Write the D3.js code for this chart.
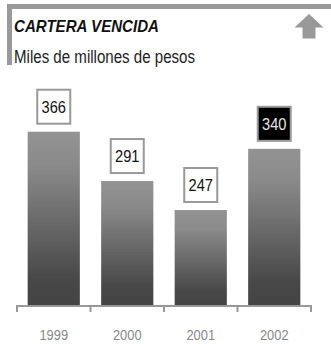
<!DOCTYPE html>
<html>
<head>
<meta charset="utf-8">
<script src="https://cdn.jsdelivr.net/npm/d3@7"></script>
<style>
  html, body { margin: 0; padding: 0; background: #fff; }
  svg { display: block; }
  text { font-family: "Liberation Sans", Arial, sans-serif; }
</style>
</head>
<body>
<svg id="chart" width="331" height="344"></svg>
<script>
// Cartera vencida, miles de millones de pesos
const years = ["1999", "2000", "2001", "2002"];
const values = [366, 291, 247, 340];
const highlighted = ["2002"];

const svg = d3.select("#chart");
const W = 331;
const baseY = 305;

// Narrow lettering: squeeze each string to a condensed width
function narrow(sel, ratio) {
  sel.each(function () {
    const t = d3.select(this);
    const w = this.getComputedTextLength();
    t.attr("textLength", w * ratio).attr("lengthAdjust", "spacingAndGlyphs");
  });
}

// Header frame: top rule and left rule
svg.append("rect").attr("x", 7).attr("y", 4).attr("width", W - 7).attr("height", 5).attr("fill", "#999");
svg.append("rect").attr("x", 7).attr("y", 4).attr("width", 5).attr("height", 61).attr("fill", "#999");

// Up arrow in the header
svg.append("path")
  .attr("d", "M309,14 L323.5,27.5 L315.5,27.5 L315.5,38.5 L302.5,38.5 L302.5,27.5 L294.5,27.5 Z")
  .attr("fill", "#999");

svg.append("text")
  .attr("x", 14).attr("y", 31.5)
  .attr("font-size", 17).attr("font-weight", "bold").attr("font-style", "italic")
  .attr("fill", "#111")
  .text("CARTERA VENCIDA")
  .attr("textLength", 145).attr("lengthAdjust", "spacingAndGlyphs");

svg.append("text")
  .attr("x", 14).attr("y", 63)
  .attr("font-size", 18)
  .attr("fill", "#222")
  .text("Miles de millones de pesos")
  .attr("textLength", 181).attr("lengthAdjust", "spacingAndGlyphs");

// Scales
const x = d3.scaleBand().domain(years).range([17, 311]).paddingInner(0.29).paddingOuter(0.145);
const y = d3.scaleLinear().domain([100, 380]).range([306.7, 122.5]);

// Bar gradient, light at the top, dark at the bottom
const defs = svg.append("defs");
const grad = defs.append("linearGradient").attr("id", "barGrad")
  .attr("x1", 0).attr("y1", 0).attr("x2", 0).attr("y2", 1);
grad.append("stop").attr("offset", "0%").attr("stop-color", "#939393");
grad.append("stop").attr("offset", "20%").attr("stop-color", "#8a8a8a");
grad.append("stop").attr("offset", "85%").attr("stop-color", "#484848");
grad.append("stop").attr("offset", "100%").attr("stop-color", "#444");

const data = years.map((yr, i) => ({ year: yr, value: values[i] }));

svg.append("g").selectAll("rect")
  .data(data)
  .join("rect")
  .attr("x", d => x(d.year))
  .attr("y", d => y(d.value))
  .attr("width", x.bandwidth())
  .attr("height", d => baseY - y(d.value))
  .attr("fill", "url(#barGrad)");

// Value boxes above the bars
const boxW = 33, boxH = 34, gap = 8;
const labels = svg.append("g").selectAll("g")
  .data(data)
  .join("g")
  .attr("transform", d => `translate(${x(d.year) + x.bandwidth() / 2},${y(d.value) - gap - boxH / 2})`);

labels.append("rect")
  .attr("x", -boxW / 2).attr("y", -boxH / 2)
  .attr("width", boxW).attr("height", boxH)
  .attr("fill", d => highlighted.includes(d.year) ? "#000" : "#fff")
  .attr("stroke", "#999").attr("stroke-width", 2);

labels.append("text")
  .attr("text-anchor", "middle")
  .attr("y", 6)
  .attr("font-size", 17)
  .attr("fill", d => highlighted.includes(d.year) ? "#e6e6e6" : "#111")
  .text(d => d.value)
  .call(narrow, 0.86);

// Category axis: baseline with tick marks on band edges
const axis = svg.append("g");
axis.append("line")
  .attr("x1", 16.5).attr("x2", 311.5)
  .attr("y1", baseY + 1).attr("y2", baseY + 1)
  .attr("stroke", "#999").attr("stroke-width", 2);

const edges = years.map(yr => x(yr) - x.step() * x.paddingInner() / 2);
edges[0] = x.range()[0];
edges.push(x.range()[1]);
axis.selectAll("line.tick")
  .data(edges)
  .join("line")
  .attr("class", "tick")
  .attr("x1", d => d).attr("x2", d => d)
  .attr("y1", baseY).attr("y2", 312)
  .attr("stroke", "#999").attr("stroke-width", 2);

axis.selectAll("text")
  .data(years)
  .join("text")
  .attr("x", d => x(d) + x.bandwidth() / 2)
  .attr("y", 339.5)
  .attr("text-anchor", "middle")
  .attr("font-size", 14)
  .attr("fill", "#888")
  .text(d => d)
  .call(narrow, 0.92);
</script>
</body>
</html>
